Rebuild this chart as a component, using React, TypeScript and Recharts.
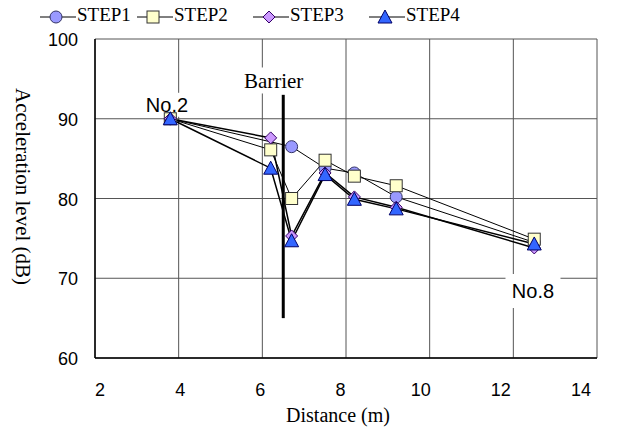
import React from 'react';
import {
  LineChart, Line, XAxis, YAxis, CartesianGrid, ReferenceLine, ReferenceDot
} from 'recharts';

const distances = [3.8, 6.2, 6.7, 7.5, 8.2, 9.2, 12.5];
const step1 = [90, null, 86.5, 83.8, 83.2, 80.2, 74.5];
const step2 = [90, 86.1, 80.0, 84.8, 82.8, 81.6, 74.9];
const step3 = [90, 87.6, 75.3, 83.2, 80.2, 78.9, 73.8];
const step4 = [90, 83.8, 74.7, 83.0, 79.9, 78.7, 74.3];

const xTicks = [2, 4, 6, 8, 10, 12, 14];
const yTicks = [60, 70, 80, 90, 100];

const data = distances.map((d, i) => ({
  d, STEP1: step1[i], STEP2: step2[i], STEP3: step3[i], STEP4: step4[i],
}));

const serif = '"Liberation Serif", "Times New Roman", serif';
const sans = '"Liberation Sans", Arial, sans-serif';

function CircleDot({ cx, cy }: any) {
  if (cx == null || cy == null) return null;
  return <circle cx={cx} cy={cy} r={6} fill="#9999ff" stroke="#333366" strokeWidth={1} />;
}
function SquareDot({ cx, cy }: any) {
  if (cx == null || cy == null) return null;
  return <rect x={cx - 6} y={cy - 6} width={12} height={12} fill="#ffffcc" stroke="#333333" strokeWidth={1} />;
}
function DiamondDot({ cx, cy }: any) {
  if (cx == null || cy == null) return null;
  return <path d={`M${cx},${cy - 6}L${cx + 6},${cy}L${cx},${cy + 6}L${cx - 6},${cy}Z`} fill="#cc99ff" stroke="#330066" strokeWidth={1} />;
}
function TriangleDot({ cx, cy }: any) {
  if (cx == null || cy == null) return null;
  return <path d={`M${cx},${cy - 7}L${cx + 7},${cy + 6}L${cx - 7},${cy + 6}Z`} fill="#3366ff" stroke="#000066" strokeWidth={1} />;
}

const series = [
  { key: 'STEP1', dot: CircleDot, width: 1 },
  { key: 'STEP2', dot: SquareDot, width: 1 },
  { key: 'STEP3', dot: DiamondDot, width: 1.5 },
  { key: 'STEP4', dot: TriangleDot, width: 1.5 },
];

function XTick({ x, y, payload }: any) {
  const shift = 5 - 1.75 * (payload.value - 2);
  return (
    <text x={x + shift} y={y + 38} textAnchor="middle" fontFamily={sans} fontSize={18} fill="#000">
      {payload.value}
    </text>
  );
}
function YTick({ x, y, payload }: any) {
  return (
    <text x={x - 17} y={y + 7} textAnchor="end" fontFamily={sans} fontSize={18} fill="#000">
      {payload.value}
    </text>
  );
}

function boxLabel(text: string, w: number, h: number, font: string, size: number) {
  return ({ cx, cy }: any) => (
    <g>
      <rect x={cx - w / 2} y={cy - h / 2} width={w} height={h} fill="#fff" />
      <text x={cx} y={cy + size * 0.36} textAnchor="middle" fontFamily={font} fontSize={size} fill="#000">
        {text}
      </text>
    </g>
  );
}

function LegendIcon({ Dot }: any) {
  return (
    <svg width={36} height={16} style={{ verticalAlign: 'middle', marginRight: 1 }}>
      <line x1={0} y1={8} x2={36} y2={8} stroke="#000" strokeWidth={1} />
      <Dot cx={16} cy={8} />
    </svg>
  );
}

export default function App() {
  const legendPos = [40, 137, 253, 369];
  return (
    <div style={{ position: 'absolute', left: 0, top: 0, width: 621, height: 430, background: '#fff' }}>
      <LineChart width={621} height={430} data={data} margin={{ top: 39, right: 24, bottom: 32, left: 35 }}>
        <CartesianGrid stroke="#555" strokeWidth={1} />
        <XAxis
          dataKey="d" type="number" domain={[2, 14]} ticks={xTicks} interval={0}
          height={40} tickSize={0} tickMargin={0} tick={<XTick />}
          axisLine={{ stroke: '#000', strokeWidth: 1.5 }} tickLine={false}
        />
        <YAxis
          type="number" domain={[60, 100]} ticks={yTicks} interval={0}
          width={60} tickSize={0} tickMargin={0} tick={<YTick />}
          axisLine={{ stroke: '#000', strokeWidth: 1.5 }} tickLine={false}
        />
        <ReferenceDot x={3.72} y={91.75} r={0} shape={boxLabel('No.2', 50, 24, sans, 20)} />
        <ReferenceDot x={12.47} y={68.4} r={0} shape={boxLabel('No.8', 55, 34, sans, 20)} />
        <ReferenceDot x={6.27} y={94.8} r={0} shape={boxLabel('Barrier', 100, 26, serif, 21)} />
        <ReferenceLine segment={[{ x: 6.5, y: 93 }, { x: 6.5, y: 65 }]} stroke="#000" strokeWidth={3} />
        {series.map((s) => {
          const D = s.dot;
          return (
            <Line
              key={s.key}
              dataKey={s.key}
              type="linear"
              stroke="#000"
              strokeWidth={s.width}
              connectNulls
              dot={(p: any) => <D key={`${s.key}-${p.index}`} cx={p.cx} cy={p.cy} />}
              activeDot={false}
              isAnimationActive={false}
            />
          );
        })}
      </LineChart>
      {series.map((s, i) => (
        <div key={s.key} style={{ position: 'absolute', left: legendPos[i], top: 3, fontFamily: serif, fontSize: 19, whiteSpace: 'nowrap', lineHeight: '24px' }}>
          <LegendIcon Dot={s.dot} />
          <span>{s.key}</span>
        </div>
      ))}
      <div style={{ position: 'absolute', left: 11, top: 80, width: 24, height: 214, writingMode: 'vertical-rl', fontFamily: serif, fontSize: 21, lineHeight: '24px', textAlign: 'center' }}>
        Acceleration level (dB)
      </div>
      <div style={{ position: 'absolute', left: 238, top: 403, width: 200, textAlign: 'center', fontFamily: serif, fontSize: 20, lineHeight: '24px' }}>
        Distance (m)
      </div>
    </div>
  );
}
